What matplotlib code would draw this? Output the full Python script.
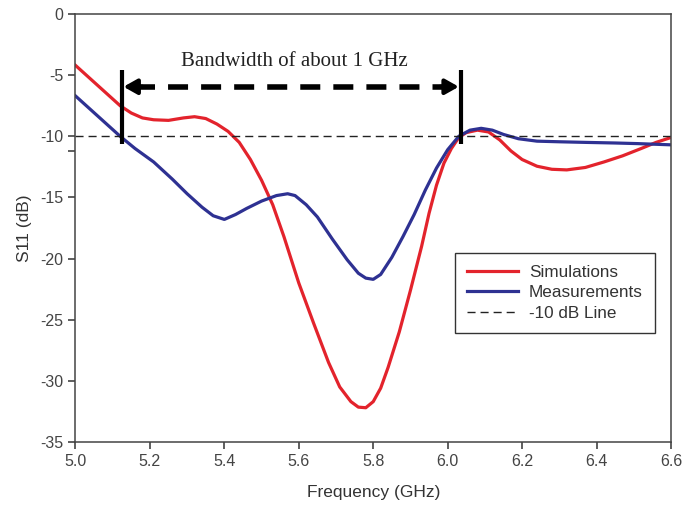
import matplotlib
matplotlib.use('Agg')
import matplotlib.pyplot as plt

# 반사계수 데이터
sim_freq = [5.00, 5.04, 5.08, 5.12, 5.15, 5.18, 5.21, 5.25, 5.29, 5.32, 5.35, 5.38,
            5.41, 5.44, 5.47, 5.50, 5.53, 5.56, 5.60, 5.64, 5.68, 5.71, 5.74, 5.76,
            5.78, 5.80, 5.82, 5.84, 5.87, 5.90, 5.93, 5.95, 5.97, 5.99, 6.01, 6.03,
            6.05, 6.08, 6.11, 6.14, 6.17, 6.20, 6.24, 6.28, 6.32, 6.37, 6.42, 6.47,
            6.52, 6.56, 6.60]
sim_s11 = [-4.2, -5.3, -6.4, -7.5, -8.1, -8.5, -8.65, -8.7, -8.5, -8.4, -8.55, -9.0,
           -9.6, -10.5, -11.9, -13.6, -15.6, -18.2, -22.0, -25.3, -28.5, -30.5, -31.7, -32.15,
           -32.2, -31.7, -30.6, -28.9, -26.0, -22.6, -19.0, -16.3, -14.0, -12.2, -11.0, -10.1,
           -9.7, -9.5, -9.65, -10.3, -11.2, -11.9, -12.45, -12.7, -12.75, -12.55, -12.1, -11.6,
           -11.0, -10.5, -10.1]

meas_freq = [5.00, 5.04, 5.08, 5.12, 5.16, 5.21, 5.26, 5.30, 5.34, 5.37, 5.40, 5.43,
             5.46, 5.50, 5.54, 5.57, 5.59, 5.62, 5.65, 5.69, 5.73, 5.76, 5.78, 5.80,
             5.82, 5.85, 5.88, 5.91, 5.94, 5.97, 6.00, 6.03, 6.06, 6.09, 6.12, 6.15,
             6.19, 6.24, 6.30, 6.37, 6.45, 6.51, 6.60]
meas_s11 = [-6.7, -7.8, -8.9, -10.0, -11.0, -12.1, -13.5, -14.7, -15.8, -16.5, -16.8, -16.4,
            -15.9, -15.3, -14.85, -14.7, -14.85, -15.6, -16.6, -18.4, -20.1, -21.2, -21.6, -21.7,
            -21.3, -19.9, -18.2, -16.4, -14.4, -12.6, -11.1, -10.0, -9.5, -9.35, -9.5, -9.85,
            -10.2, -10.4, -10.45, -10.5, -10.55, -10.6, -10.7]

ref_level = -10
bw_low, bw_high = 5.124, 6.035
bw_text = 'Bandwidth of about 1 GHz'

plt.rcParams['font.family'] = ['Liberation Sans', 'DejaVu Sans']
plt.rcParams['axes.unicode_minus'] = False

fig = plt.figure(figsize=(6.83, 5.05), dpi=100)
ax = fig.add_axes([0.1105, 0.1248, 0.8719, 0.8475])

ax.plot(sim_freq, sim_s11, color='#e3232c', lw=2.3, label='Simulations')
ax.plot(meas_freq, meas_s11, color='#2e3192', lw=2.3, label='Measurements')
ax.axhline(ref_level, color='#222222', lw=1.0, dashes=(5.8, 3.6), label='-10 dB Line')

# 대역폭 표시
for xb in (bw_low, bw_high):
    ax.plot([xb, xb], [-4.6, -10.6], color='black', lw=3, solid_capstyle='butt')
ax.plot([5.16, 6.00], [-5.95, -5.95], color='black', lw=4, dashes=(3.6, 2.35))
ax.annotate('', xy=(bw_low + 0.005, -5.95), xytext=(5.18, -5.95),
            arrowprops=dict(arrowstyle='-|>,head_length=0.8,head_width=0.45',
                            color='black', lw=3, shrinkA=0, shrinkB=0))
ax.annotate('', xy=(bw_high - 0.005, -5.95), xytext=(5.98, -5.95),
            arrowprops=dict(arrowstyle='-|>,head_length=0.8,head_width=0.45',
                            color='black', lw=3, shrinkA=0, shrinkB=0))
ax.text(5.588, -3.9, bw_text, family='Liberation Serif', fontsize=15,
        ha='center', va='center', color='#222222')

ax.set_xlim(5.0, 6.6)
ax.set_ylim(-35, 0)
ax.set_xticks([5.0, 5.2, 5.4, 5.6, 5.8, 6.0, 6.2, 6.4, 6.6])
ax.set_yticks([0, -5, -10, -15, -20, -25, -30, -35])
ax.set_yticks([-11.2], minor=True)
ax.tick_params(axis='both', direction='out', length=5, width=1.1,
               labelsize=11.5, colors='#333333', labelcolor='#444444')
ax.tick_params(axis='y', which='minor', direction='out', length=5, width=1.1, colors='#333333')
for s in ax.spines.values():
    s.set_color('#444444')
    s.set_linewidth(1.1)

ax.set_xlabel('Frequency (GHz)', fontsize=12.5, color='#333333', labelpad=12)
ax.set_ylabel('S11 (dB)', fontsize=12.5, color='#333333', labelpad=6)

leg = ax.legend(loc='upper left', bbox_to_anchor=(0.637, 0.4416), fontsize=12.3,
                frameon=True, fancybox=False, edgecolor='black', handlelength=3.0,
                handletextpad=0.65, labelspacing=0.32, borderpad=0.7,
                borderaxespad=0)
leg.get_frame().set_linewidth(1.0)
for t in leg.get_texts():
    t.set_color('#333333')

fig.savefig('out.png', dpi=100)
